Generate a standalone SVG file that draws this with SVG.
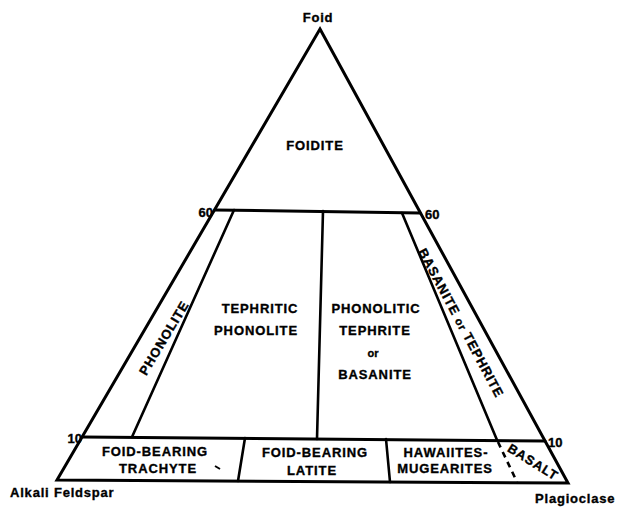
<svg xmlns="http://www.w3.org/2000/svg" width="620" height="508" viewBox="0 0 620 508">
  <style>
    .bg { fill: #ffffff; }
    .edge { fill: none; stroke: #000; stroke-width: 3; stroke-linejoin: miter; stroke-linecap: round; }
    .inner { fill: none; stroke: #000; stroke-width: 2.6; stroke-linecap: round; }
    .dash { fill: none; stroke: #000; stroke-width: 2.6; stroke-dasharray: 6 5; }
    text { font-family: "Liberation Sans", Arial, sans-serif; font-weight: bold; fill: #000; stroke: #000; stroke-width: 0.35; }
    .lbl { font-size: 13px; letter-spacing: 0.9px; text-anchor: middle; }
    .tick { font-size: 13px; }
    .corner { font-size: 13px; letter-spacing: 0.8px; }
    .small { font-size: 11px; text-anchor: middle; }
  </style>
  <rect class="bg" x="0" y="0" width="620" height="508"/>

  <g id="connectors">
    <!-- outer triangle -->
    <path class="edge" d="M320,29 L568,483 L57,480 Z"/>
    <!-- 60 % and 10 % foid lines -->
    <line class="edge" x1="215" y1="210" x2="420" y2="213"/>
    <line class="edge" x1="83" y1="437" x2="545" y2="441"/>
    <!-- field boundaries -->
    <line class="inner" x1="234" y1="210" x2="132" y2="437"/>
    <line class="inner" x1="323" y1="211" x2="317" y2="439"/>
    <line class="inner" x1="402" y1="213" x2="497" y2="440"/>
    <line class="dash" x1="498" y1="442" x2="517" y2="482"/>
    <line class="inner" x1="245" y1="438" x2="238" y2="481"/>
    <line class="inner" x1="386" y1="439" x2="390" y2="482"/>
  </g>

  <g id="apex-foid"><text x="318" y="22" class="corner" text-anchor="middle">Foid</text></g>
  <g id="corner-alkali"><text x="10" y="497" class="corner" letter-spacing="1.4">Alkali Feldspar</text></g>
  <g id="corner-plag"><text x="535" y="503" class="corner">Plagioclase</text></g>

  <g id="ticks">
    <text x="213" y="217" class="tick" text-anchor="end">60</text>
    <text x="425" y="219" class="tick">60</text>
    <text x="82" y="443" class="tick" text-anchor="end">10</text>
    <text x="548" y="447" class="tick">10</text>
  </g>

  <g id="foidite"><text x="315" y="150" class="lbl">FOIDITE</text></g>

  <g id="phonolite"><text class="lbl" transform="translate(164,338) rotate(-59)" y="4.5">PHONOLITE</text></g>

  <g id="tephritic-phonolite">
    <text x="260" y="313" class="lbl">TEPHRITIC</text>
    <text x="256" y="335" class="lbl">PHONOLITE</text>
  </g>

  <g id="phonolitic-tephrite">
    <text x="376" y="313" class="lbl">PHONOLITIC</text>
    <text x="375" y="335" class="lbl">TEPHRITE</text>
    <text x="373" y="357" class="small">or</text>
    <text x="375" y="379" class="lbl">BASANITE</text>
  </g>

  <g id="basanite-tephrite"><text class="lbl" transform="translate(461,323) rotate(62)" y="4.5">BASANITE <tspan font-size="11px">or</tspan> TEPHRITE</text></g>

  <g id="foid-trachyte">
    <text x="155" y="456" class="lbl">FOID-BEARING</text>
    <text x="158" y="473" class="lbl">TRACHYTE</text>
    <line x1="215" y1="466" x2="220" y2="469" stroke="#000" stroke-width="2"/>
  </g>

  <g id="foid-latite">
    <text x="315" y="457" class="lbl">FOID-BEARING</text>
    <text x="312" y="475" class="lbl">LATITE</text>
  </g>

  <g id="hawaiites">
    <text x="446" y="457" class="lbl">HAWAIITES-</text>
    <text x="445" y="473" class="lbl">MUGEARITES</text>
  </g>

  <g id="basalt"><text class="lbl" transform="translate(533,462) rotate(32)" y="4.5">BASALT</text></g>
</svg>
